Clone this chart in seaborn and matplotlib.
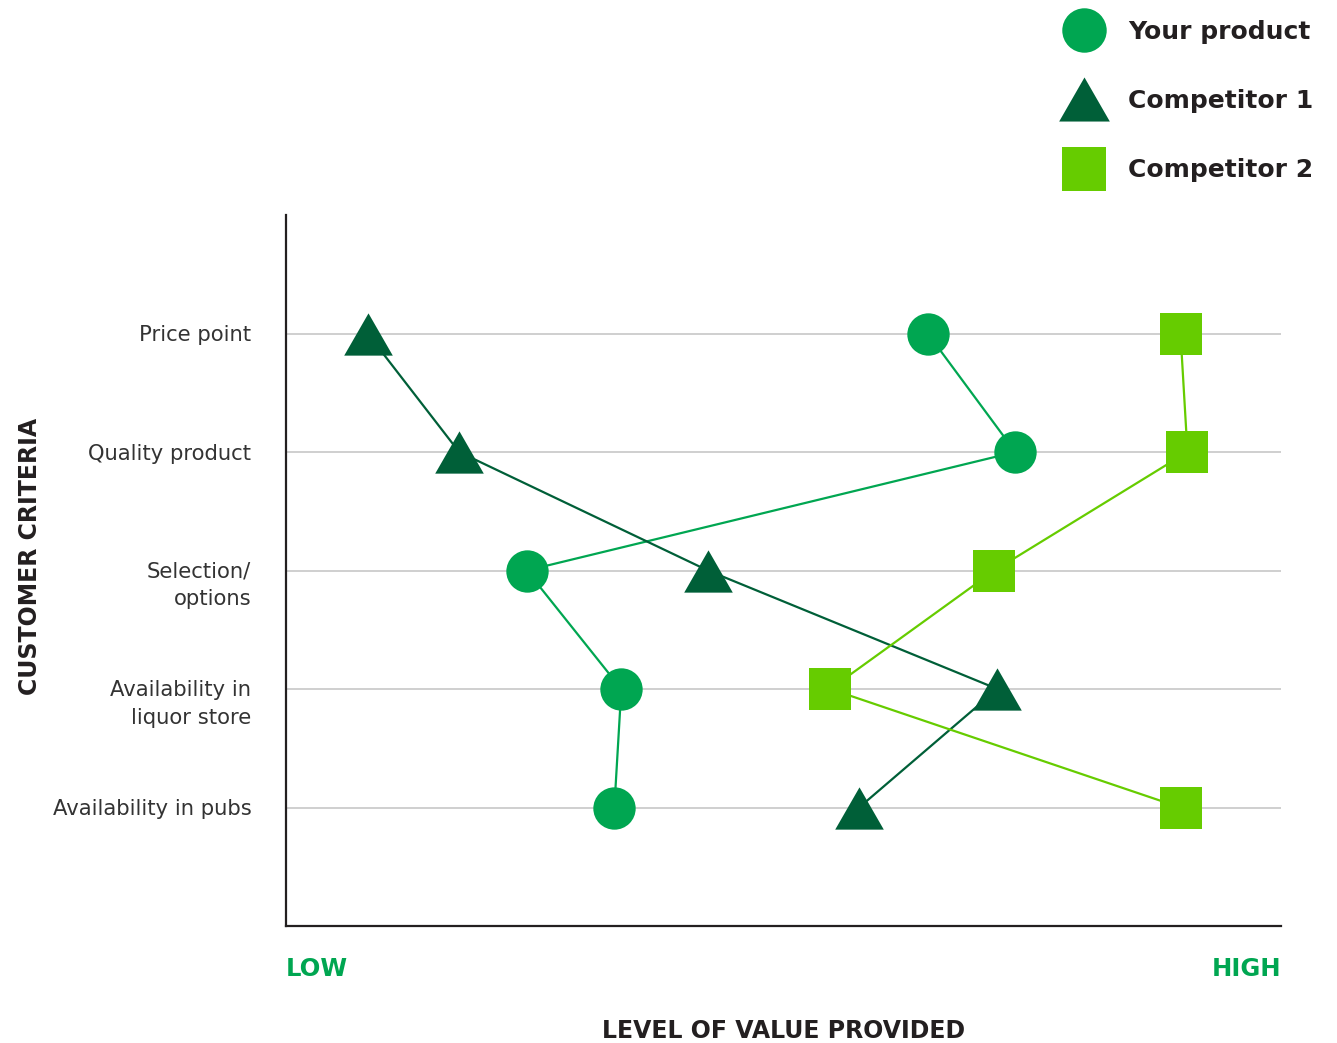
import pandas as pd
import numpy as np
import seaborn as sns
import matplotlib.pyplot as plt
from matplotlib.lines import Line2D
from matplotlib.colors import to_hex
from matplotlib.transforms import ScaledTranslation

# Dados (0 = LOW, 100 = HIGH)
criteria = [
    'Price point',
    'Quality product',
    'Selection/\noptions',
    'Availability in\nliquor store',
    'Availability in pubs',
]
your_product = [64.5, 73.3, 24.2, 33.7, 33.0]
competitor_1 = [8.2, 17.4, 42.4, 71.5, 57.6]
competitor_2 = [89.9, 90.6, 71.2, 54.7, 89.9]

series_names = ['Your product', 'Competitor 1', 'Competitor 2']
colors = {'Your product': '#00A651', 'Competitor 1': '#005F38', 'Competitor 2': '#66CC00'}
# triângulo um pouco mais largo que alto, como no original
tri = [(-1.15, -1.0), (1.15, -1.0), (0.0, 1.0)]
markers = {'Your product': 'o', 'Competitor 1': tri, 'Competitor 2': 's'}
sizes = {'#00A651': 30.5, '#005F38': 35, '#66CC00': 30.5}

df = pd.DataFrame({
    'Series': np.repeat(series_names, len(criteria)),
    'Criterion': list(range(len(criteria))) * 3,
    'Value': your_product + competitor_1 + competitor_2,
})

sns.set_style('white')
plt.rcParams['font.family'] = ['DejaVu Sans']

fig = plt.figure(figsize=(13.37, 10.43), dpi=100)
ax = fig.add_axes([286 / 1337, 117 / 1043, 995 / 1337, 711 / 1043])

# Linhas de grade horizontais
for i in range(len(criteria)):
    ax.axhline(i, color='#cccccc', lw=1.3, zorder=0)

sns.lineplot(
    data=df,
    x='Value',
    y='Criterion',
    hue='Series',
    style='Series',
    palette=colors,
    markers=markers,
    dashes=False,
    orient='y',
    sort=False,
    estimator=None,
    lw=1.6,
    ms=30,
    markeredgewidth=0,
    legend=False,
    ax=ax,
)
for line in ax.lines:
    h = to_hex(line.get_color()).upper()
    if h in sizes:
        line.set_markersize(sizes[h])

ax.set_xlim(0, 100)
ax.set_ylim(5, -1)

ax.set_yticks(range(len(criteria)), criteria)
ax.tick_params(axis='y', length=0, pad=25, labelsize=15.2, labelcolor='#333333')

ax.set_xticks([0, 100], ['LOW', 'HIGH'])
ax.tick_params(axis='x', length=0, pad=22, labelsize=17.5, labelcolor='#00A651')
xl = ax.get_xticklabels()
xl[0].set_horizontalalignment('left')
xl[1].set_horizontalalignment('right')
for lab in xl:
    lab.set_fontweight('bold')

# primeira linha do rótulo alinhada com a grade
for lab in ax.get_yticklabels():
    lab.set_horizontalalignment('right')
    lab.set_verticalalignment('baseline')
    lab.set_linespacing(1.45)
    n_extra = lab.get_text().count('\n')
    shift = ScaledTranslation(0, -(7.5 + 27 * n_extra) / 100, fig.dpi_scale_trans)
    lab.set_transform(lab.get_transform() + shift)

for side in ['top', 'right']:
    ax.spines[side].set_visible(False)
for side in ['left', 'bottom']:
    ax.spines[side].set_color('#231f20')
    ax.spines[side].set_linewidth(1.6)

ax.set_xlabel('LEVEL OF VALUE PROVIDED', fontsize=17, fontweight='bold', color='#231f20')
ax.xaxis.set_label_coords(0.5, -0.131)
ax.set_ylabel('CUSTOMER CRITERIA', fontsize=17, fontweight='bold', color='#231f20')
ax.yaxis.set_label_coords(-0.245, 0.52)

handles = [
    Line2D([], [], ls='none', marker=markers[s], color=colors[s],
           ms=sizes[colors[s].upper()] + 1.5, mew=0)
    for s in series_names
]
fig.legend(
    handles,
    series_names,
    loc='upper right',
    bbox_to_anchor=(1331 / 1337, 1.0 - 2 / 1043),
    frameon=False,
    prop={'size': 18, 'weight': 'bold'},
    labelcolor='#231f20',
    labelspacing=1.82,
    handletextpad=0.76,
    borderaxespad=0.3,
)

plt.savefig('out.png', dpi=100)
